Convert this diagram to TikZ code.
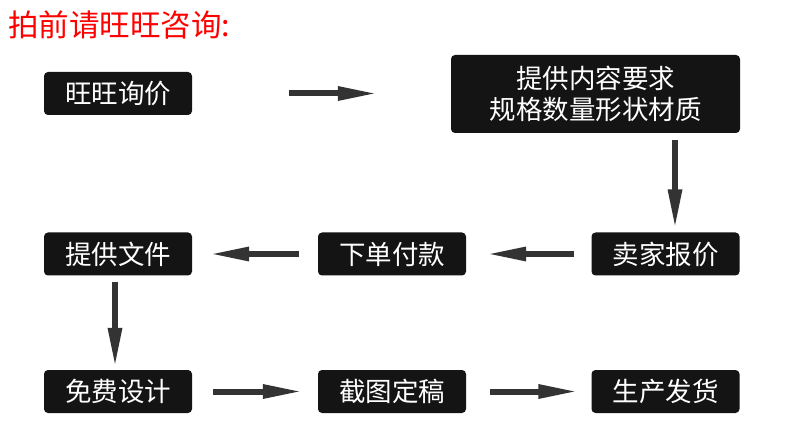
\documentclass[tikz,border=0pt]{standalone}
\usepackage{fontspec}
\usepackage{xcolor}
\usetikzlibrary{arrows.meta}
\newfontfamily\cjk{Noto Sans CJK SC}
\definecolor{boxblack}{HTML}{141414}
\definecolor{arrowgray}{HTML}{333333}

\begin{document}
\begin{tikzpicture}[x=1pt, y=-1pt,
    stepbox/.style={fill=boxblack, text=white, rounded corners=4pt, inner sep=0pt,
      minimum width=148pt, minimum height=43pt,
      font=\cjk\fontsize{26.5pt}{31pt}\selectfont},
    flow/.style={draw=arrowgray, line width=6pt,
      -{Triangle[length=40pt, width=13pt]}}]
    \useasboundingbox (0,0) rectangle (790,446);
    % title
    \node[anchor=west, inner sep=0pt, text=red,
      font=\cjk\fontsize{30.5pt}{36pt}\selectfont] (title) at (8,25) {拍前请旺旺咨询:};
    % steps
    \node[stepbox] (ask) at (118,93.5) {旺旺询价};
    \node[stepbox, minimum width=289pt, minimum height=78pt, align=center]
      (need) at (595.5,94) {提供内容要求\\规格数量形状材质};
    \node[stepbox] (quote) at (665.5,254) {卖家报价};
    \node[stepbox] (pay) at (392,254) {下单付款};
    \node[stepbox] (files) at (118,254) {提供文件};
    \node[stepbox] (design) at (118,391.5) {免费设计};
    \node[stepbox] (proof) at (392,391.5) {截图定稿};
    \node[stepbox] (ship) at (665.5,391.5) {生产发货};
    % arrows
    \draw[flow, shorten <=97pt, shorten >=73pt] (ask.east) -- (ask.east -| need.west);
    \draw[flow, shorten <=7pt, shorten >=3pt]
      ([xshift=9.5pt]need.south -| quote.north) -- ([xshift=9.5pt]quote.north);
    \draw[flow, shorten <=17pt, shorten >=20pt] (quote.west) -- (pay.east);
    \draw[flow, shorten <=19pt, shorten >=17pt] (pay.west) -- (files.east);
    \draw[flow, shorten <=6pt, shorten >=2pt]
      ([xshift=-3pt]files.south) -- ([xshift=-3pt]design.north);
    \draw[flow, shorten <=21pt, shorten >=15pt] (design.east) -- (proof.west);
    \draw[flow, shorten <=24pt, shorten >=13pt] (proof.east) -- (ship.west);
\end{tikzpicture}
\end{document}
